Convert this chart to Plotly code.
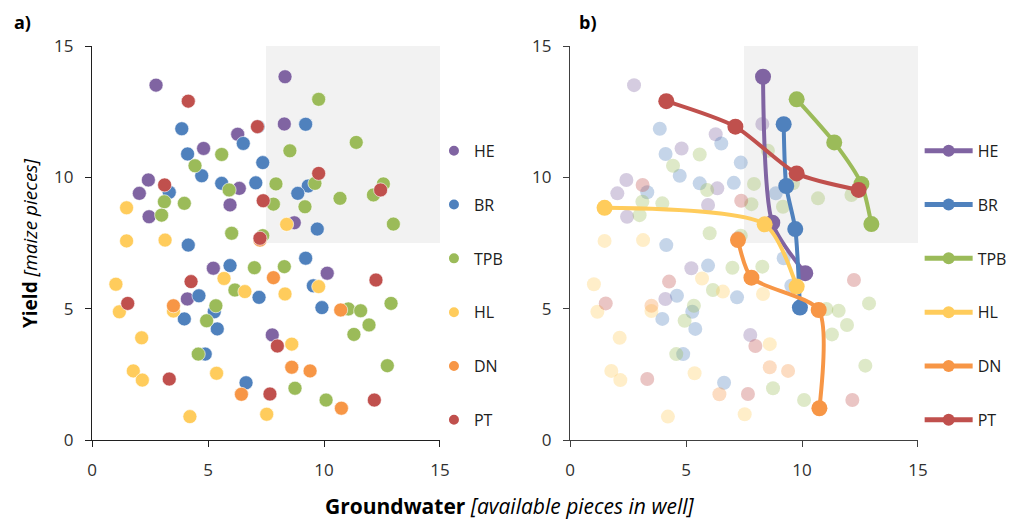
import plotly.graph_objects as go

groups = ["HE", "BR", "TPB", "HL", "DN", "PT"]
colors = {"HE": "#8064A2", "BR": "#4F81BD", "TPB": "#9BBB59",
          "HL": "#FFCC5C", "DN": "#F79646", "PT": "#C0504D"}

he_x = [2.76, 8.32, 8.29, 4.81, 6.28, 2.43, 2.04, 2.46, 6.35, 5.95, 8.72, 5.23, 4.11, 7.77, 10.14]
he_y = [13.51, 13.83, 12.03, 11.10, 11.64, 9.90, 9.39, 8.50, 9.58, 8.95, 8.27, 6.54, 5.37, 4.00, 6.35]

br_x = [3.87, 4.12, 4.73, 5.59, 6.52, 7.36, 7.06, 3.33, 4.15, 7.16, 9.21, 9.32, 8.87, 9.71, 5.95,
        4.61, 7.20, 3.98, 5.27, 5.40, 4.88, 6.64, 9.21, 9.54, 9.91]
br_y = [11.85, 10.89, 10.06, 9.77, 11.29, 10.56, 9.79, 9.43, 7.42, 11.93, 12.02, 9.67, 9.39, 8.03, 6.64,
        5.49, 5.43, 4.61, 4.88, 4.23, 3.27, 2.18, 6.92, 5.87, 5.04]

tpb_x = [5.59, 4.44, 5.91, 7.93, 3.12, 3.98, 3.00, 7.82, 6.02, 7.36, 9.77, 11.39, 8.53, 9.61, 9.18,
         10.69, 12.13, 12.56, 12.99, 7.00, 6.16, 5.34, 4.94, 4.58, 8.29, 11.05, 11.58, 12.89, 11.94,
         11.29, 12.73, 8.75, 10.09]
tpb_y = [10.87, 10.44, 9.52, 9.75, 9.07, 9.01, 8.56, 8.98, 7.87, 7.78, 12.97, 11.33, 11.01, 9.77, 8.88,
         9.20, 9.33, 9.75, 8.22, 6.56, 5.71, 5.11, 4.54, 3.27, 6.60, 4.99, 4.92, 5.20, 4.38,
         4.02, 2.83, 1.97, 1.52]

hl_x = [1.49, 1.49, 3.15, 8.39, 1.03, 1.18, 3.51, 5.69, 6.59, 2.14, 1.78, 2.17, 5.37, 4.22, 7.53, 9.77, 8.32, 8.61]
hl_y = [8.84, 7.58, 7.61, 8.21, 5.93, 4.88, 4.91, 6.15, 5.65, 3.89, 2.63, 2.28, 2.54, 0.89, 0.98, 5.84, 5.56, 3.65]

dn_x = [3.51, 7.82, 6.44, 7.24, 10.72, 8.61, 9.40, 10.75]
dn_y = [5.11, 6.18, 1.74, 7.61, 4.95, 2.77, 2.63, 1.21]

pt_x = [4.15, 7.13, 3.13, 7.38, 7.24, 9.77, 12.44, 4.27, 1.54, 3.33, 7.67, 12.24, 7.99, 12.17]
pt_y = [12.90, 11.93, 9.71, 9.11, 7.68, 10.15, 9.52, 6.03, 5.20, 2.32, 1.75, 6.09, 3.58, 1.52]

# Pareto fronts (panel b)
he_fx = [8.32, 8.72, 10.14];            he_fy = [13.83, 8.27, 6.35]
br_fx = [9.21, 9.32, 9.71, 9.91];       br_fy = [12.02, 9.67, 8.03, 5.04]
tpb_fx = [9.77, 11.39, 12.56, 12.99];   tpb_fy = [12.97, 11.33, 9.75, 8.22]
hl_fx = [1.49, 8.39, 9.77];             hl_fy = [8.84, 8.21, 5.84]
dn_fx = [7.24, 7.82, 10.72, 10.75];     dn_fy = [7.61, 6.18, 4.95, 1.21]
pt_fx = [4.15, 7.13, 9.77, 12.44];      pt_fy = [12.90, 11.93, 10.15, 9.52]

data = {"HE": (he_x, he_y), "BR": (br_x, br_y), "TPB": (tpb_x, tpb_y),
        "HL": (hl_x, hl_y), "DN": (dn_x, dn_y), "PT": (pt_x, pt_y)}
fronts = {"HE": (he_fx, he_fy), "BR": (br_fx, br_fy), "TPB": (tpb_fx, tpb_fy),
          "HL": (hl_fx, hl_fy), "DN": (dn_fx, dn_fy), "PT": (pt_fx, pt_fy)}

tick_vals = [0, 5, 10, 15]

fig = go.Figure()

# panel a
for g in groups:
    x, y = data[g]
    fig.add_trace(go.Scatter(x=x, y=y, mode="markers", name=g, legendgroup="a" + g,
                             marker=dict(size=14, color=colors[g], line=dict(width=0.6, color="white")),
                             xaxis="x", yaxis="y", legend="legend"))

# panel b faded
for g in groups:
    x, y = data[g]
    fig.add_trace(go.Scatter(x=x, y=y, mode="markers", showlegend=False,
                             marker=dict(size=14, color=colors[g], opacity=0.33),
                             xaxis="x2", yaxis="y2"))

# panel b fronts
for g in groups:
    x, y = fronts[g]
    fig.add_trace(go.Scatter(x=x, y=y, mode="lines+markers", name=g, legendgroup="b" + g,
                             line=dict(color=colors[g], width=4, shape="spline", smoothing=0.7),
                             marker=dict(size=16, color=colors[g]),
                             xaxis="x2", yaxis="y2", legend="legend2"))

def axis(line_col):
    return dict(range=[0, 15], tickvals=tick_vals, showgrid=False, zeroline=False,
                showline=True, linecolor=line_col, linewidth=1.2, ticks="outside",
                ticklen=6, tickcolor=line_col, ticklabelstandoff=8,
                tickfont=dict(family="Open Sans", size=17, color="#303030"))

fig.update_layout(
    width=1018, height=519,
    margin=dict(l=92, r=100, t=46, b=79, autoexpand=False),
    paper_bgcolor="white", plot_bgcolor="white",
    xaxis=dict(domain=[0, 0.4213], anchor="y", **axis("#202020")),
    yaxis=dict(domain=[0, 1], anchor="x", **axis("#202020")),
    xaxis2=dict(domain=[0.5787, 1.0], anchor="y2", **axis("#404040")),
    yaxis2=dict(domain=[0, 1], anchor="x2", **axis("#404040")),
    legend=dict(x=0.414, y=0.777, xanchor="left", yanchor="top", tracegroupgap=30,
                font=dict(family="Open Sans", size=16, color="#202020"),
                itemsizing="constant", bgcolor="rgba(0,0,0,0)"),
    legend2=dict(x=1.002, y=0.777, xanchor="left", yanchor="top", tracegroupgap=30,
                 font=dict(family="Open Sans", size=16, color="#202020"),
                 itemsizing="constant", itemwidth=48, bgcolor="rgba(0,0,0,0)"),
    font=dict(family="Open Sans"),
)

for xr, yr in (("x", "y"), ("x2", "y2")):
    fig.add_shape(type="rect", xref=xr, yref=yr, x0=7.5, x1=15, y0=7.5, y1=15,
                  fillcolor="#F2F2F2", line=dict(width=0), layer="below")

fig.add_annotation(text="<b>a)</b>", xref="paper", yref="paper", x=-0.097, y=1.061,
                   xanchor="left", yanchor="middle", showarrow=False,
                   font=dict(family="Open Sans", size=18, color="black"))
fig.add_annotation(text="<b>b)</b>", xref="paper", yref="paper", x=0.587, y=1.061,
                   xanchor="left", yanchor="middle", showarrow=False,
                   font=dict(family="Open Sans", size=18, color="black"))
fig.add_annotation(text="<b>Groundwater</b> <i>[available pieces in well]</i>",
                   xref="paper", yref="paper", x=0.506, y=-0.168, xanchor="center",
                   yanchor="middle", showarrow=False,
                   font=dict(family="Open Sans", size=21, color="black"))
fig.add_annotation(text="<b>Yield</b> <i>[maize pieces]</i>",
                   xref="paper", yref="paper", x=-0.075, y=0.5, xanchor="center",
                   yanchor="middle", showarrow=False, textangle=-90,
                   font=dict(family="Open Sans", size=19, color="black"))

fig.write_html("out.html", config={"displayModeBar": False},
               post_script="document.body.style.margin='0';")
